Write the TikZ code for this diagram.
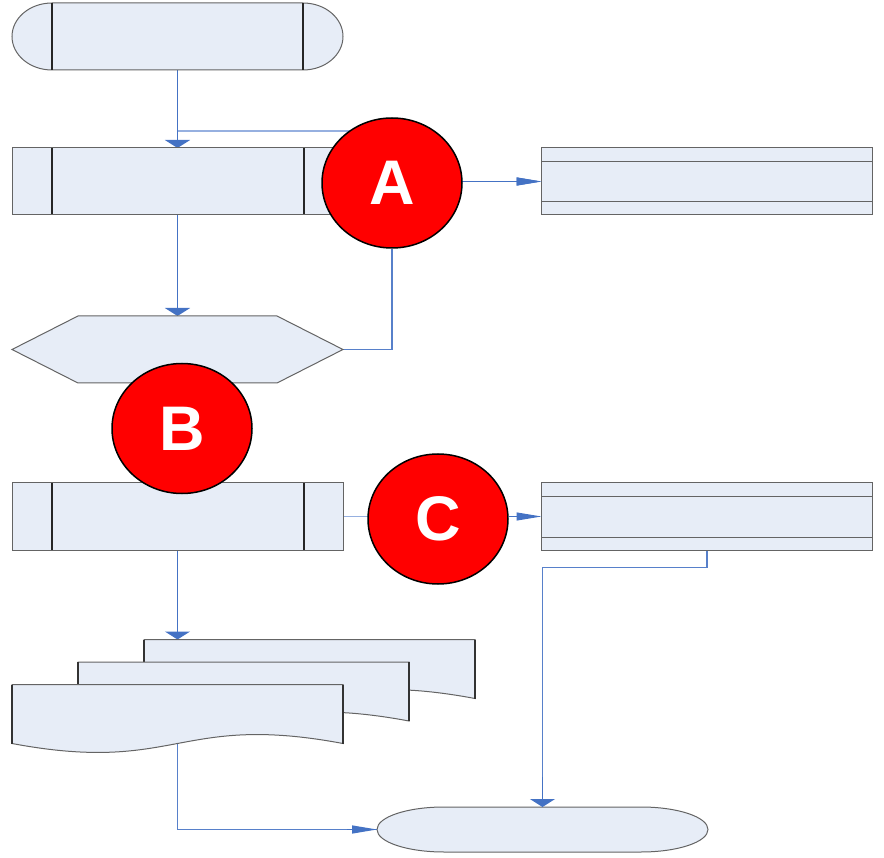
\documentclass[tikz,border=0pt]{standalone}
\usepackage{fontspec}
\setmainfont{Liberation Sans}
\usetikzlibrary{arrows.meta,shapes.geometric,backgrounds}
\definecolor{shapefill}{RGB}{231,237,247}
\definecolor{shapeline}{RGB}{100,100,100}
\definecolor{flowblue}{RGB}{68,114,196}
\definecolor{lightblue}{RGB}{150,176,224}
\definecolor{circred}{RGB}{255,0,0}
\tikzset{
  holder/.style={rectangle,inner sep=0pt,outer sep=0pt,minimum width=331pt,minimum height=67pt},
  shapebody/.style={fill=shapefill,draw=shapeline,line width=1pt},
  barline/.style={draw=black!85,line width=1.2pt},
  sideline/.style={draw=black!80,line width=1.2pt},
  predef/.style={holder,shapebody,
    path picture={
      \draw[barline] ([xshift=40pt]path picture bounding box.north west) -- ([xshift=40pt]path picture bounding box.south west);
      \draw[barline] ([xshift=-39pt]path picture bounding box.north east) -- ([xshift=-39pt]path picture bounding box.south east);
      \draw[sideline] (path picture bounding box.north west) -- (path picture bounding box.south west);
    }},
  storebox/.style={holder,shapebody,
    path picture={
      \draw[shapeline,line width=1pt] ([yshift=-14pt]path picture bounding box.north west) -- ([yshift=-14pt]path picture bounding box.north east);
      \draw[shapeline,line width=1pt] ([yshift=13pt]path picture bounding box.south west) -- ([yshift=13pt]path picture bounding box.south east);
      \draw[sideline] (path picture bounding box.north west) -- (path picture bounding box.south west);
      \draw[sideline] (path picture bounding box.north east) -- (path picture bounding box.south east);
    }},
  marker/.style={ellipse,minimum width=140pt,minimum height=130pt,inner sep=0pt,
    fill=circred,draw=black,line width=1.5pt,text=white,
    font=\bfseries\fontsize{63}{63}\selectfont},
  mainflow/.style={draw=flowblue,line width=1.8pt},
  thinflow/.style={draw=lightblue,line width=1.1pt},
  midflow/.style={draw=flowblue!90,line width=1.2pt},
  vtip/.style={-{Triangle[length=8pt,width=25pt]},flowblue},
  htip/.style={-{Triangle[length=25pt,width=8pt]},flowblue},
}
\begin{document}
\begin{tikzpicture}[x=1pt,y=-1pt]
\useasboundingbox (0,0) rectangle (884,858);

% start stadium with bars
\node[holder] (s) at (177.5,36.5) {};
\filldraw[shapebody] ([xshift=40pt]s.north west) -- ([xshift=-40pt]s.north east)
  arc[start angle=90,end angle=-90,x radius=40pt,y radius=33.5pt]
  -- ([xshift=40pt]s.south west)
  arc[start angle=270,end angle=90,x radius=40pt,y radius=33.5pt] -- cycle;
\draw[barline] ([xshift=40pt]s.north west) -- ([xshift=40pt]s.south west);
\draw[barline] ([xshift=-40pt]s.north east) -- ([xshift=-40pt]s.south east);

% predefined processes
\node[predef] (p1) at (177.5,181.5) {};
\node[predef] (p3) at (177.5,516.5) {};

% storage boxes
\node[storebox] (r1) at (707,181.5) {};
\node[storebox] (r2) at (707,516.5) {};

% hexagon
\node[holder] (h) at (177.5,349.5) {};
\filldraw[shapebody] (h.west) -- ([xshift=66pt]h.north west) -- ([xshift=-66pt]h.north east)
  -- (h.east) -- ([xshift=-66pt]h.south east) -- ([xshift=66pt]h.south west) -- cycle;

% multi-document
\node[holder,minimum height=59pt] (d1) at (309.5,669) {};
\node[holder,minimum height=59pt] (d2) at (243.5,691.5) {};
\node[holder,minimum height=59pt] (d3) at (177.5,714) {};
\foreach \d in {d1,d2,d3}{
  \filldraw[shapebody] (\d.south west) -- (\d.north west) -- (\d.north east) -- (\d.south east)
    .. controls ([yshift=31pt]\d.south) and ([yshift=-31pt]\d.south) .. (\d.south west) -- cycle;
  \draw[sideline] (\d.south west) -- (\d.north west);
  \draw[sideline] (\d.south east) -- (\d.north east);
}

% end terminator
\node[holder,minimum height=45pt] (t2) at (542.5,829.5) {};
\filldraw[shapebody] ([xshift=67pt]t2.north west) -- ([xshift=-67pt]t2.north east)
  arc[start angle=90,end angle=-90,x radius=67pt,y radius=22.5pt]
  -- ([xshift=67pt]t2.south west)
  arc[start angle=270,end angle=90,x radius=67pt,y radius=22.5pt] -- cycle;

% markers
\node[marker] (A) at (392,183) {A};
\node[marker] (B) at (182,428.5) {B};
\node[marker] (C) at (438,519) {C};

\coordinate (j) at (177.5,131);

\begin{scope}[on background layer]
  \draw[mainflow,vtip] (s.south) -- (p1.north);
  \draw[thinflow] (j) -- (j -| A.center);
  \draw[thinflow,htip] (A.center |- r1.west) -- (r1.west);
  \draw[mainflow,vtip] (p1.south) -- (h.north);
  \draw[midflow] (h.east) -| (A.south);
  \draw[thinflow] (p3.east) -- (p3.east -| C.center);
  \draw[mainflow,vtip] (p3.south) -- (p3.south |- d1.north);
  \draw[midflow] (d3.south) |- (t2.west);
  \draw[midflow] (r2.south) -- ++(0,17.5) -| (t2.north);
\end{scope}
% connectors that leave the markers (tips drawn on top)
\draw[thinflow,htip] (C.east |- r2.west) -- (r2.west);
\draw[thinflow,htip] (A.east |- r1.west) -- (r1.west);
\draw[midflow,vtip] ([yshift=30pt]t2.north) -- (t2.north);
\draw[midflow,htip] ([xshift=-30pt]t2.west) -- (t2.west);
\end{tikzpicture}
\end{document}
